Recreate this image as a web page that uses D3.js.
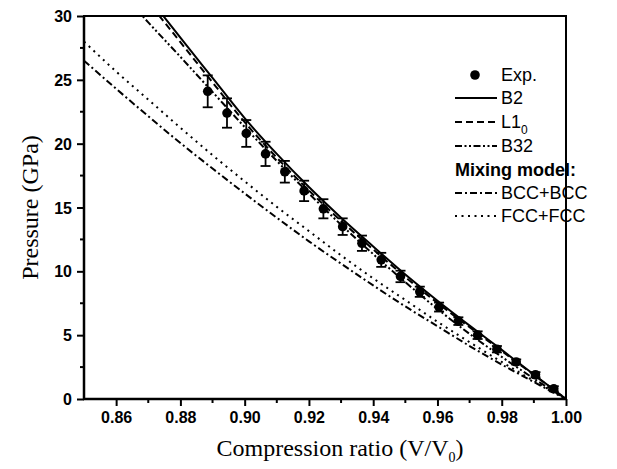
<!DOCTYPE html>
<html>
<head>
<meta charset="utf-8">
<script src="https://cdnjs.cloudflare.com/ajax/libs/d3/7.8.5/d3.min.js"></script>
<style>
  body { margin: 0; background: #fff; }
  svg { display: block; }
  .tick-lbl { font-family: "Liberation Sans", Arial, sans-serif; font-weight: bold; font-size: 16px; }
  .title { font-family: "Liberation Serif", "Times New Roman", serif; font-size: 24px; }
  .leg { font-family: "Liberation Sans", Arial, sans-serif; font-size: 18px; }
</style>
</head>
<body>
<div id="chart"></div>
<script>
// experimental points
const expV = [0.8885, 0.8945, 0.9005, 0.9065, 0.9125, 0.9185, 0.9245, 0.9305, 0.9365, 0.9425,
              0.9485, 0.9545, 0.9605, 0.9665, 0.9725, 0.9785, 0.9845, 0.9905, 0.9962];
const expP = [24.1, 22.4, 20.8, 19.2, 17.8, 16.3, 14.9, 13.5, 12.2, 10.9,
              9.6, 8.4, 7.2, 6.1, 5.0, 3.9, 2.9, 1.9, 0.8];
const expErr = [1.25, 1.15, 1.05, 0.95, 0.85, 0.8, 0.75, 0.65, 0.6, 0.55,
                0.45, 0.4, 0.35, 0.3, 0.3, 0.25, 0.2, 0.2, 0.2];

// calculated curves
const curveV = [0.85, 0.86, 0.87, 0.88, 0.89, 0.90, 0.91, 0.92, 0.93, 0.94, 0.95, 0.96, 0.97, 0.98, 0.99, 1.00];
const b2  = [38.0, 34.7, 31.5, 28.3, 25.15, 22.0, 19.2, 16.6, 14.2, 11.95, 9.75, 7.7, 5.75, 3.85, 1.92, 0];
const l10 = [37.5, 34.3, 31.1, 27.95, 24.8, 21.68, 18.9, 16.33, 13.95, 11.72, 9.55, 7.53, 5.62, 3.76, 1.88, 0];
const b32 = [35.1, 32.3, 29.5, 26.8, 24.05, 21.3, 18.65, 16.1, 13.65, 11.35, 9.15, 7.05, 5.1, 3.3, 1.6, 0];
const bccBcc = [26.5, 24.3, 22.15, 20.05, 18.05, 16.1, 14.2, 12.35, 10.6, 8.9, 7.25, 5.7, 4.15, 2.7, 1.33, 0];
const fccFcc = [28.0, 25.65, 23.45, 21.25, 19.1, 17.05, 15.05, 13.15, 11.25, 9.45, 7.75, 6.05, 4.45, 2.9, 1.42, 0];

const xTicks = [0.86, 0.88, 0.90, 0.92, 0.94, 0.96, 0.98, 1.00];
const xMinor = [0.87, 0.89, 0.91, 0.93, 0.95, 0.97, 0.99];
const yTicks = [0, 5, 10, 15, 20, 25, 30];
const yMinor = [2.5, 7.5, 12.5, 17.5, 22.5, 27.5];

const w = 617, h = 469;
const pLeft = 84, pRight = 566, pTop = 16, pBottom = 399;

const svg = d3.select('#chart').append('svg')
  .attr('width', w).attr('height', h);

const xScale = d3.scaleLinear().domain([0.85, 1.00]).range([pLeft, pRight]);
const yScale = d3.scaleLinear().domain([0, 30]).range([pBottom, pTop]);

svg.append('clipPath').attr('id', 'clip')
  .append('rect')
  .attr('x', pLeft).attr('y', pTop)
  .attr('width', pRight - pLeft).attr('height', pBottom - pTop);

// axes
const xAxis = d3.axisBottom(xScale).tickValues(xTicks).tickFormat(d3.format('.2f')).tickSize(7).tickSizeOuter(0);
const yAxis = d3.axisLeft(yScale).tickValues(yTicks).tickFormat(d3.format('d')).tickSize(7).tickSizeOuter(0);

const gx = svg.append('g').attr('transform', `translate(0,${pBottom})`).call(xAxis);
gx.selectAll('text').attr('class', 'tick-lbl').attr('fill', '#000').attr('dy', null).attr('y', 24);
gx.append('g').selectAll('line').data(xMinor).enter().append('line')
  .attr('x1', d => xScale(d)).attr('x2', d => xScale(d))
  .attr('y1', 0).attr('y2', 4).attr('stroke', '#000').attr('stroke-width', 2);

const gy = svg.append('g').attr('transform', `translate(${pLeft},0)`).call(yAxis);
gy.selectAll('text').attr('class', 'tick-lbl').attr('fill', '#000').attr('x', -12).attr('dy', '0.35em');
gy.append('g').selectAll('line').data(yMinor).enter().append('line')
  .attr('y1', d => yScale(d)).attr('y2', d => yScale(d))
  .attr('x1', 0).attr('x2', -4).attr('stroke', '#000').attr('stroke-width', 2);

svg.selectAll('.tick line').attr('stroke-width', 2);
svg.selectAll('.domain').remove();

// frame
svg.append('rect')
  .attr('x', pLeft).attr('y', pTop)
  .attr('width', pRight - pLeft).attr('height', pBottom - pTop)
  .attr('fill', 'none').attr('stroke', '#000').attr('stroke-width', 2);
svg.append('line').attr('x1', pLeft).attr('x2', pLeft).attr('y1', pTop).attr('y2', pBottom + 1)
  .attr('stroke', '#000').attr('stroke-width', 2.5);
svg.append('line').attr('x1', pLeft - 1).attr('x2', pRight + 1).attr('y1', pBottom).attr('y2', pBottom)
  .attr('stroke', '#000').attr('stroke-width', 2.5);

// curves
const series = [
  {name: 'B2', vals: b2, dash: null},
  {name: 'L10', vals: l10, dash: '7,4'},
  {name: 'B32', vals: b32, dash: '7,2.5,2,2.5,2,2.5'},
  {name: 'BCC+BCC', vals: bccBcc, dash: '7,3,2,3'},
  {name: 'FCC+FCC', vals: fccFcc, dash: '2,4.5'}
];

const line = d3.line()
  .x(d => xScale(d[0]))
  .y(d => yScale(d[1]))
  .curve(d3.curveMonotoneX);

const plot = svg.append('g').attr('clip-path', 'url(#clip)');

plot.selectAll('path.curve')
  .data(series)
  .enter()
  .append('path')
  .attr('class', 'curve')
  .attr('d', s => line(curveV.map((v, i) => [v, s.vals[i]])))
  .attr('fill', 'none')
  .attr('stroke', '#000')
  .attr('stroke-width', 2)
  .attr('stroke-dasharray', s => s.dash);

// experimental points with error bars
const pts = expV.map((v, i) => ({v: v, p: expP[i], e: expErr[i]}));
const eg = plot.selectAll('g.pt').data(pts).enter().append('g').attr('class', 'pt');
eg.append('line')
  .attr('x1', d => xScale(d.v)).attr('x2', d => xScale(d.v))
  .attr('y1', d => yScale(d.p + d.e)).attr('y2', d => yScale(d.p - d.e))
  .attr('stroke', '#000').attr('stroke-width', 1.8);
eg.selectAll('line.cap')
  .data(d => [d.p + d.e, d.p - d.e].map(p => ({v: d.v, p: p})))
  .enter().append('line').attr('class', 'cap')
  .attr('x1', d => xScale(d.v) - 5).attr('x2', d => xScale(d.v) + 5)
  .attr('y1', d => yScale(d.p)).attr('y2', d => yScale(d.p))
  .attr('stroke', '#000').attr('stroke-width', 1.8);
eg.append('circle')
  .attr('cx', d => xScale(d.v)).attr('cy', d => yScale(d.p))
  .attr('r', 4.8).attr('fill', '#000');

// axis titles
svg.append('text').attr('class', 'title')
  .attr('transform', `translate(38,${(pTop + pBottom) / 2}) rotate(-90)`)
  .attr('text-anchor', 'middle')
  .text('Pressure (GPa)');

const xt = svg.append('text').attr('class', 'title')
  .attr('x', 340).attr('y', 456)
  .attr('text-anchor', 'middle');
xt.append('tspan').text('Compression ratio (V/V');
xt.append('tspan').attr('font-size', '14px').attr('dy', 6).text('0');
xt.append('tspan').attr('dy', -6).text(')');

// legend
const lx1 = 455, lx2 = 497, tx = 501;
const legend = svg.append('g');
legend.append('circle').attr('cx', 475).attr('cy', 75).attr('r', 4.8).attr('fill', '#000');
legend.append('text').attr('class', 'leg').attr('x', tx).attr('y', 81).text('Exp.');

const legRows = [
  {s: series[0], y: 98},
  {s: series[1], y: 122},
  {s: series[2], y: 146},
  {s: series[3], y: 193},
  {s: series[4], y: 216}
];
legRows.forEach(r => {
  legend.append('line')
    .attr('x1', lx1).attr('x2', lx2).attr('y1', r.y).attr('y2', r.y)
    .attr('stroke', '#000').attr('stroke-width', 2)
    .attr('stroke-dasharray', r.s.dash);
  const t = legend.append('text').attr('class', 'leg').attr('x', tx).attr('y', r.y + 6);
  if (r.s.name === 'L10') {
    t.append('tspan').text('L1');
    t.append('tspan').attr('font-size', '12px').attr('dy', 6).text('0');
  } else {
    t.text(r.s.name);
  }
});
legend.append('text').attr('class', 'leg').attr('x', 455).attr('y', 176)
  .attr('font-weight', 'bold').text('Mixing model:');
</script>
</body>
</html>
